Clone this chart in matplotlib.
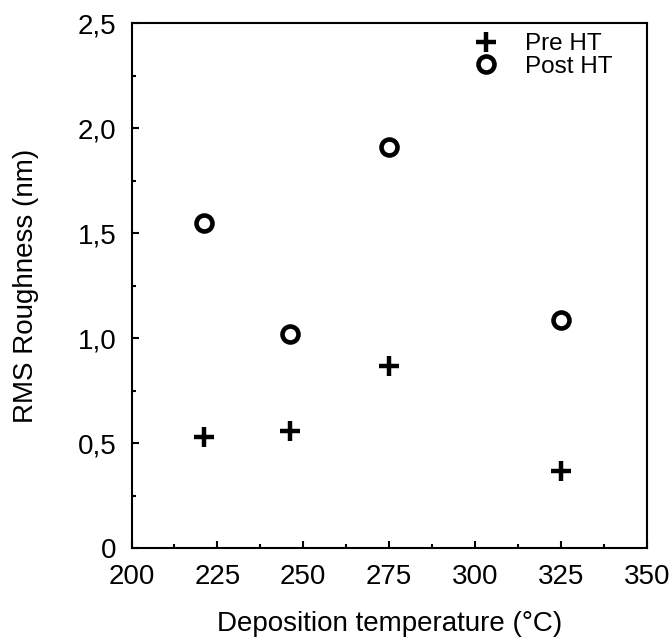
import numpy as np
import matplotlib.pyplot as plt
from matplotlib.ticker import MultipleLocator, FuncFormatter

plt.rcParams['font.family'] = ['Liberation Sans', 'DejaVu Sans']

# Dados
temperatura = [221, 246, 275, 325]
rugosidade_pre = [0.53, 0.56, 0.87, 0.37]
rugosidade_pos = [1.55, 1.02, 1.91, 1.085]

fig = plt.figure(figsize=(6.71, 6.43), dpi=100)
ax = fig.add_axes([0.196, 0.147, 0.768, 0.817])

ax.plot(temperatura, rugosidade_pre, linestyle='none', marker='+',
        markersize=15, markeredgewidth=3.2, color='black', label='Pre HT')
ax.plot(temperatura, rugosidade_pos, linestyle='none', marker='o',
        markersize=11.5, markeredgewidth=3.3, markerfacecolor='white',
        markeredgecolor='black', label='Post HT')

ax.set_xlim(200, 350)
ax.set_ylim(0, 2.5)
ax.xaxis.set_major_locator(MultipleLocator(25))
ax.xaxis.set_minor_locator(MultipleLocator(12.5))
ax.yaxis.set_major_locator(MultipleLocator(0.5))
ax.yaxis.set_minor_locator(MultipleLocator(0.25))

# Rótulos com vírgula decimal
def formata_y(v, pos):
    if abs(v) < 1e-9:
        return '0'
    return f'{v:.1f}'.replace('.', ',')

ax.yaxis.set_major_formatter(FuncFormatter(formata_y))

for s in ax.spines.values():
    s.set_linewidth(1.5)
ax.tick_params(which='both', direction='in', width=1.5, labelsize=20)
ax.tick_params(which='major', length=5, pad=11)
ax.tick_params(which='minor', length=3)

ax.set_xlabel('Deposition temperature (°C)', fontsize=20, labelpad=15)
ax.set_ylabel('RMS Roughness (nm)', fontsize=20, labelpad=28)

ax.legend(loc='upper right', bbox_to_anchor=(0.976, 1.022), frameon=False,
          fontsize=17.5, handletextpad=1.0, labelspacing=0.02, handlelength=1.2)

fig.savefig('out.png', dpi=100)
